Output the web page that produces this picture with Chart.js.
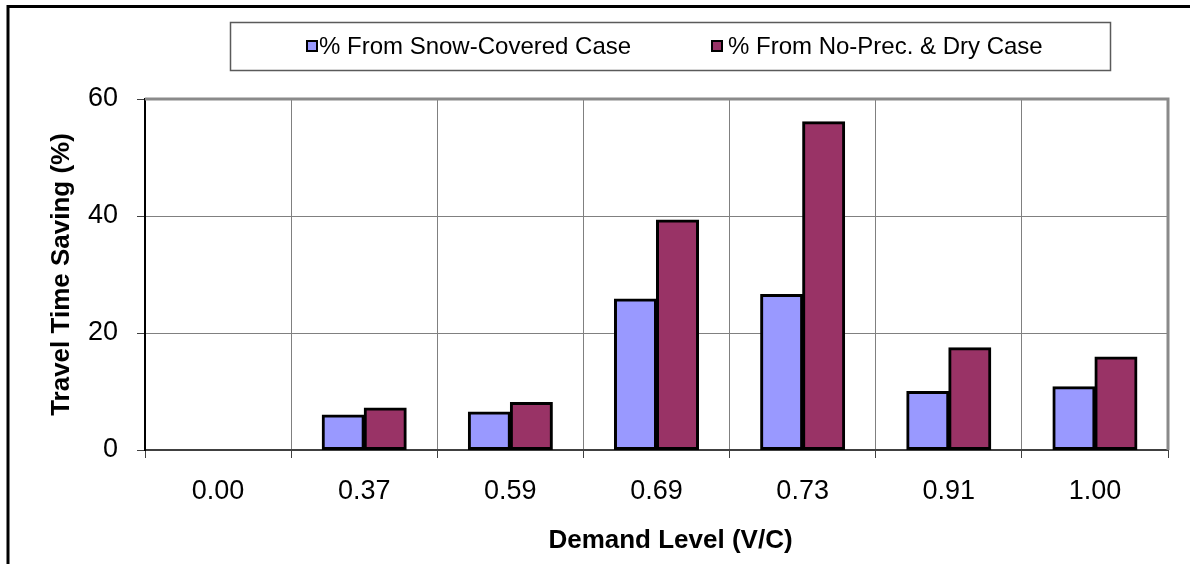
<!DOCTYPE html>
<html>
<head>
<meta charset="utf-8">
<script src="https://cdn.jsdelivr.net/npm/chart.js@4/dist/chart.umd.min.js"></script>
<style>
  html, body { margin: 0; padding: 0; background: #fff; }
  #wrap { width: 1190px; height: 564px; }
</style>
</head>
<body>
<div id="wrap"><canvas id="c" width="1190" height="564"></canvas></div>
<script>
const categories = ["0.00", "0.37", "0.59", "0.69", "0.73", "0.91", "1.00"];
const snowCovered = [0, 6.0, 6.5, 25.8, 26.6, 10.0, 10.8];
const noPrecDry = [0, 7.2, 8.1, 39.3, 56.1, 17.5, 15.9];
const seriesNames = ["% From Snow-Covered Case", "% From No-Prec. & Dry Case"];
const yTicks = { min: 0, max: 60, step: 20 };
const xTitle = "Demand Level (V/C)";
const yTitle = "Travel Time Saving (%)";

const FONT = "'Liberation Sans', Arial, sans-serif";

const framePlugin = {
  id: 'frame',
  beforeDraw(chart) {
    const ctx = chart.ctx;
    ctx.save();
    ctx.fillStyle = '#fff';
    ctx.fillRect(0, 0, chart.width, chart.height);
    ctx.strokeStyle = '#000';
    ctx.lineWidth = 3;
    ctx.beginPath();
    ctx.moveTo(8, chart.height);
    ctx.lineTo(8, 6.5);
    ctx.lineTo(chart.width, 6.5);
    ctx.stroke();
    ctx.restore();
  },
  afterDatasetsDraw(chart) {
    const ctx = chart.ctx;
    const a = chart.chartArea;
    ctx.save();
    ctx.strokeStyle = '#8a8a8a';
    ctx.lineWidth = 3;
    ctx.beginPath();
    ctx.moveTo(a.left, a.top);
    ctx.lineTo(a.right, a.top);
    ctx.lineTo(a.right, a.bottom);
    ctx.stroke();
    ctx.restore();
  },
  afterDraw(chart) {
    const ctx = chart.ctx;
    ctx.save();
    // x-axis title (slightly right of the plot centre, as in the original)
    ctx.font = 'bold 26px ' + FONT;
    ctx.fillStyle = '#000';
    ctx.textAlign = 'center';
    ctx.textBaseline = 'middle';
    ctx.fillText(xTitle, 670.5, 540.5);
    // legend
    ctx.textAlign = 'left';
    ctx.strokeStyle = '#5a5a5a';
    ctx.lineWidth = 1.5;
    ctx.strokeRect(230.5, 22.5, 880, 48);
    ctx.font = '24px ' + FONT;
    const items = [
      { box: 307, text: 319 },
      { box: 712, text: 728 }
    ];
    chart.data.datasets.forEach((ds, i) => {
      const it = items[i];
      ctx.fillStyle = ds.backgroundColor;
      ctx.fillRect(it.box, 41, 10, 10);
      ctx.strokeStyle = '#000';
      ctx.lineWidth = 2;
      ctx.strokeRect(it.box, 41, 10, 10);
      ctx.fillStyle = '#000';
      ctx.fillText(ds.label, it.text, 47);
    });
    ctx.restore();
  }
};

new Chart(document.getElementById('c'), {
  type: 'bar',
  data: {
    labels: categories,
    datasets: [
      { label: seriesNames[0], data: snowCovered, backgroundColor: '#9999FF', borderColor: '#000', borderWidth: 3, borderSkipped: false, inflateAmount: 0.5 },
      { label: seriesNames[1], data: noPrecDry, backgroundColor: '#993366', borderColor: '#000', borderWidth: 3, borderSkipped: false, inflateAmount: 0.5 }
    ]
  },
  options: {
    responsive: false,
    animation: false,
    devicePixelRatio: 1,
    layout: { padding: { top: 99, right: 22, left: 0, bottom: 0 } },
    datasets: { bar: { categoryPercentage: 0.575, barPercentage: 1.0 } },
    plugins: {
      legend: { display: false },
      tooltip: { enabled: false }
    },
    scales: {
      x: {
        grid: {
          offset: true,
          color: '#808080',
          lineWidth: 1,
          borderDash: [1, 1],
          tickLength: 8,
          tickColor: '#404040',
          tickWidth: 1
        },
        border: { display: true, color: '#404040', width: 2 },
        ticks: { color: '#000', font: { family: FONT, size: 27 }, padding: 17, maxRotation: 0 },
        title: { display: false, text: xTitle },
        afterFit(scale) { scale.height = 114; }
      },
      y: {
        min: yTicks.min,
        max: yTicks.max,
        ticks: { stepSize: yTicks.step, color: '#000', font: { family: FONT, size: 27 }, padding: 19 },
        grid: {
          color: '#808080',
          lineWidth: 1,
          borderDash: [1, 1],
          tickLength: 8,
          tickColor: '#404040',
          tickWidth: 1
        },
        border: { display: true, color: '#000', width: 2 },
        title: { display: true, text: yTitle, color: '#000', font: { family: FONT, size: 26, weight: 'bold' }, padding: { top: 46, bottom: 0 } },
        afterFit(scale) { scale.width = 145; }
      }
    }
  },
  plugins: [framePlugin]
});
</script>
</body>
</html>
